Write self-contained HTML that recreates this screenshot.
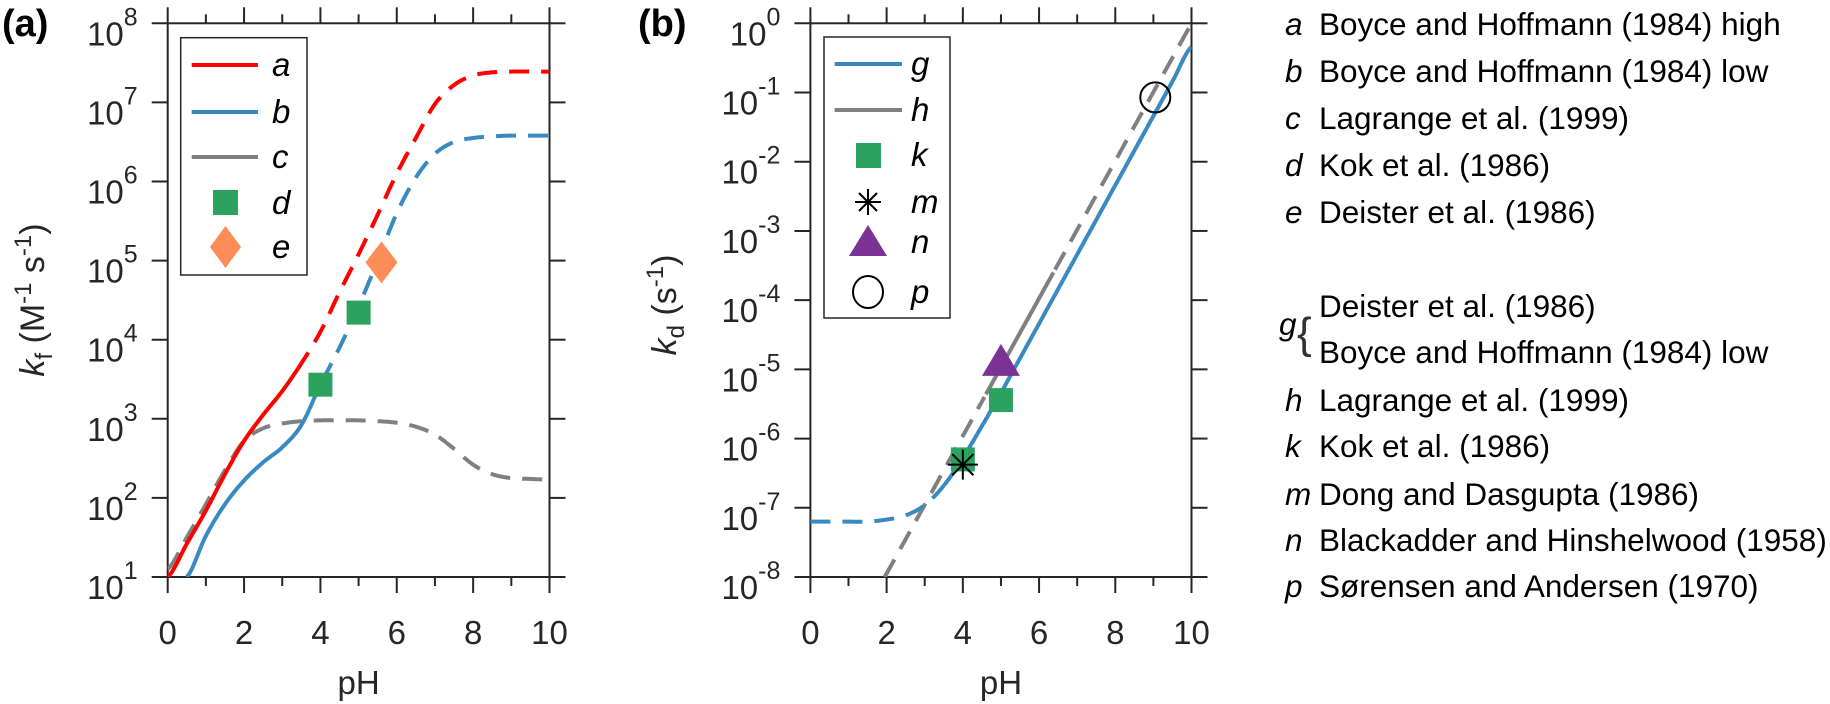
<!DOCTYPE html>
<html><head><meta charset="utf-8"><style>
body{margin:0;background:#fff}
svg{display:block;font-family:"Liberation Sans",Arial,sans-serif}
</style></head><body>
<svg id="fig" width="1830" height="704" viewBox="0 0 1830 704"></svg>
<script>
// ---- Panel (a) data ----
const phA = [0,0.5,1,1.5,2,2.5,3,3.5,4,4.5,5,5.5,6,6.5,7,7.5,8,8.5,9,9.5,10];
const logA = [1.0,1.42,1.84,2.3,2.72,3.05,3.35,3.7,4.1,4.6,5.08,5.58,6.1,6.55,6.98,7.22,7.34,7.38,7.39,7.39,7.39];
const logB = [null,1.0,1.52,1.92,2.22,2.45,2.64,2.92,3.43,3.9,4.42,5.0,5.6,6.05,6.35,6.5,6.55,6.57,6.58,6.58,6.58];
const logC = [1.1,1.5,1.92,2.35,2.72,2.88,2.94,2.97,2.98,2.98,2.98,2.97,2.95,2.9,2.8,2.62,2.42,2.3,2.25,2.24,2.23];
const solidEndA = 3.4, solidEndB = 3.7;
const dPh = [4,5], dVal = [2.7e3,2.2e4];
const ePh = [5.6], eVal = [9.5e4];
const yTicksA = [1,2,3,4,5,6,7,8];
// ---- Panel (b) data ----
const phB = [0,0.5,1,1.5,2,2.5,3,3.5,4,4.5,5,5.5,6,6.5,7,7.5,8,8.5,9,9.5,10];
const logG = [-7.2,-7.2,-7.2,-7.2,-7.17,-7.11,-6.96,-6.68,-6.28,-5.82,-5.34,-4.84,-4.34,-3.84,-3.34,-2.84,-2.34,-1.84,-1.34,-0.84,-0.34];
const hPh = [1.95,10], hLog = [-8,0];
const hSolid = [4.6,6.4];
const gSolidStart = 3.5;
const kPh = [4,5], kVal = [5e-7,3.6e-6];
const mPh = [4], mVal = [4.2e-7];
const nPh = [5], nVal = [1.2e-5];
const pPh = [9.05], pVal = [0.085];
const yTicksB = [-8,-7,-6,-5,-4,-3,-2,-1,0];
const xTicks = [0,2,4,6,8,10];

const NS="http://www.w3.org/2000/svg";
const svg=document.getElementById('fig');
function mk(tag,attrs,parent){const e=document.createElementNS(NS,tag);for(const k in attrs)e.setAttribute(k,attrs[k]);(parent||svg).appendChild(e);return e;}

const A={x0:167.7,x1:549.5,y0:577,y1:23.3,lmin:1,lmax:8};
const B={x0:810.4,x1:1191.5,y0:577,y1:23.3,lmin:-8,lmax:0};
function sx(P,v){return P.x0+(P.x1-P.x0)*v/10;}
function sy(P,l){return P.y0-(P.y0-P.y1)*(l-P.lmin)/(P.lmax-P.lmin);}

function axes(P,yt,name){
  const g=mk('g',{});
  
  
  mk('rect',{x:P.x0,y:P.y1,width:P.x1-P.x0,height:P.y0-P.y1,fill:'none',stroke:'#262626','stroke-width':2},g);
  for(let v=0;v<=10;v++){
    const x=sx(P,v),L=(v%2==0)?16:9;
    mk('line',{x1:x,x2:x,y1:P.y0,y2:P.y0+L,stroke:'#262626','stroke-width':2},g);
    mk('line',{x1:x,x2:x,y1:P.y1,y2:P.y1-L,stroke:'#262626','stroke-width':2},g);
  }
  xTicks.forEach(v=>{
    const t=mk('text',{x:sx(P,v),y:644,'text-anchor':'middle','font-size':33,fill:'#262626'},g);
    t.textContent=v;
    
    
  });
  yt.forEach(l=>{
    const y=sy(P,l);
    mk('line',{x1:P.x0-16,x2:P.x0,y1:y,y2:y,stroke:'#262626','stroke-width':2},g);
    mk('line',{x1:P.x1,x2:P.x1+16,y1:y,y2:y,stroke:'#262626','stroke-width':2},g);
    const t=mk('text',{x:P.x0-30,y:y+22,'text-anchor':'end','font-size':33,fill:'#262626'},g);
    
    
    const a=mk('tspan',{},t);a.textContent='10';
    const b=mk('tspan',{'font-size':25,dy:-20},t);b.textContent=String(l);
  });
  const xl=mk('text',{x:(P.x0+P.x1)/2,y:694,'text-anchor':'middle','font-size':33,fill:'#262626'},g);
  xl.textContent='pH';
  
  
}
axes(A,yTicksA,'panel-a');axes(B,yTicksB,'panel-b');

function path(P,xs,ls,filt,attrs,name){
  let d='';let pen=false;
  for(let i=0;i<xs.length;i++){
    const l=ls[i];
    if(l==null||!filt(xs[i])){pen=false;continue;}
    d+=(pen?'L':'M')+sx(P,xs[i]).toFixed(1)+','+sy(P,l).toFixed(1);pen=true;
  }
  const p=mk('path',Object.assign({d:d,fill:'none','stroke-width':4,'stroke-linejoin':'round'},attrs));
  
  
  return p;
}
// Catmull-Rom smoothing between data points
function dense(xs,ls,step){
  const px=[],pl=[];
  for(let i=0;i<xs.length;i++){if(ls[i]!=null){px.push(xs[i]);pl.push(ls[i]);}}
  const X=[],L=[],n=px.length;
  for(let i=0;i<n-1;i++){
    const y0=pl[Math.max(i-1,0)],y1=pl[i],y2=pl[i+1],y3=pl[Math.min(i+2,n-1)];
    for(let t=0;t<1-1e-9;t+=step){
      const t2=t*t,t3=t2*t;
      X.push(px[i]+(px[i+1]-px[i])*t);
      L.push(0.5*((2*y1)+(-y0+y2)*t+(2*y0-5*y1+4*y2-y3)*t2+(-y0+3*y1-3*y2+y3)*t3));
    }
  }
  X.push(px[n-1]);L.push(pl[n-1]);return [X,L];
}
// linear densification
function denseLinear(xs,ls,step){
  const X=[],L=[];
  for(let i=0;i<xs.length-1;i++){
    for(let t=0;t<1-1e-9;t+=step){X.push(xs[i]+(xs[i+1]-xs[i])*t);L.push(ls[i]+(ls[i+1]-ls[i])*t);}
  }
  X.push(xs[xs.length-1]);L.push(ls[ls.length-1]);return [X,L];
}
const clipA=mk('clipPath',{id:'ca'});mk('rect',{x:A.x0,y:A.y1,width:A.x1-A.x0,height:A.y0-A.y1},clipA);
const clipB=mk('clipPath',{id:'cb'});mk('rect',{x:B.x0,y:B.y1,width:B.x1-B.x0,height:B.y0-B.y1},clipB);

let [xa,la]=dense(phA,logA,0.05);
let [xb,lb]=dense(phA,logB,0.05);
let [xc,lc]=dense(phA,logC,0.05);
const gray='#808080',red='#ff0000',blue='#3a8ac2';
path(A,xc,lc,()=>true,{stroke:gray,'stroke-dasharray':'20 12','clip-path':'url(#ca)'},'series-c-line');
path(A,xb,lb,v=>v<=solidEndB,{stroke:blue,'clip-path':'url(#ca)'},'series-b-solid');
path(A,xb,lb,v=>v>=solidEndB,{stroke:blue,'stroke-dasharray':'20 12','clip-path':'url(#ca)'},'series-b-dashed');
path(A,xa,la,v=>v<=solidEndA,{stroke:red,'clip-path':'url(#ca)'},'series-a-solid');
path(A,xa,la,v=>v>=solidEndA,{stroke:red,'stroke-dasharray':'20 12','clip-path':'url(#ca)'},'series-a-dashed');
dPh.forEach((p,i)=>{const x=sx(A,p),y=sy(A,Math.log10(dVal[i]));const r=mk('rect',{x:x-12,y:y-12,width:24,height:24,fill:'#2ca25f'});});
ePh.forEach((p,i)=>{const x=sx(A,p),y=sy(A,Math.log10(eVal[i]));const r=mk('polygon',{points:`${x},${y-21} ${x+16},${y} ${x},${y+21} ${x-16},${y}`,fill:'#fc8d59'});});

// panel b lines
let [xg,lg]=dense(phB,logG,0.05);
let [xh,lh]=denseLinear(hPh,hLog,0.005);
path(B,xh,lh,v=>v<=hSolid[0]||v>=hSolid[1],{stroke:gray,'stroke-dasharray':'20 12','clip-path':'url(#cb)'},'series-h-dashed');
path(B,xh,lh,v=>v>=hSolid[0]&&v<=hSolid[1],{stroke:gray,'clip-path':'url(#cb)'},'series-h-solid');
path(B,xg,lg,v=>v<=gSolidStart,{stroke:blue,'stroke-dasharray':'20 12','clip-path':'url(#cb)'},'series-g-dashed');
path(B,xg,lg,v=>v>=gSolidStart,{stroke:blue,'clip-path':'url(#cb)'},'series-g-solid');
kPh.forEach((p,i)=>{const x=sx(B,p),y=sy(B,Math.log10(kVal[i]));const r=mk('rect',{x:x-12,y:y-12,width:24,height:24,fill:'#2ca25f'});});
nPh.forEach((p,i)=>{const x=sx(B,p),y=sy(B,Math.log10(nVal[i]));const r=mk('polygon',{points:`${x},${y-20} ${x+19},${y+12} ${x-19},${y+12}`,fill:'#7b3294'});});
function star(x,y,r,g){for(let k=0;k<4;k++){const a=k*Math.PI/4;mk('line',{x1:x-r*Math.cos(a),y1:y-r*Math.sin(a),x2:x+r*Math.cos(a),y2:y+r*Math.sin(a),stroke:'#000','stroke-width':2},g);}}
mPh.forEach((p,i)=>{const g=mk('g',{});star(sx(B,p),sy(B,Math.log10(mVal[i])),15,g);});
pPh.forEach((p,i)=>{const c=mk('circle',{cx:sx(B,p),cy:sy(B,Math.log10(pVal[i])),r:15,fill:'none',stroke:'#000','stroke-width':2});});
</script>
<svg width="1830" height="704" style="position:absolute;left:0;top:0" font-family="Liberation Sans, Arial, sans-serif">
<text x="2" y="36" font-size="38" font-weight="bold" fill="#000">(a)</text>
<text x="638" y="36" font-size="38" font-weight="bold" fill="#000">(b)</text>
<text transform="translate(44,300) rotate(-90)" text-anchor="middle" font-size="34" fill="#262626"><tspan font-style="italic">k</tspan><tspan font-size="24" dy="8">f</tspan><tspan dy="-8"> (M</tspan><tspan font-size="24" dy="-13">-1</tspan><tspan dy="13"> s</tspan><tspan font-size="24" dy="-13">-1</tspan><tspan dy="13">)</tspan></text>
<text transform="translate(676,305) rotate(-90)" text-anchor="middle" font-size="34" fill="#262626"><tspan font-style="italic">k</tspan><tspan font-size="24" dy="8">d</tspan><tspan dy="-8"> (s</tspan><tspan font-size="24" dy="-13">-1</tspan><tspan dy="13">)</tspan></text>
<g font-size="33" font-style="italic">
<rect x="180.7" y="37.7" width="126.3" height="237.3" fill="#fff" stroke="#262626" stroke-width="1.5"/>
<line x1="191.7" x2="258" y1="65" y2="65" stroke="#ff0000" stroke-width="4"/><text x="272" y="76">a</text>
<line x1="191.7" x2="258" y1="112" y2="112" stroke="#3a8ac2" stroke-width="4"/><text x="272" y="123">b</text>
<line x1="191.7" x2="258" y1="157" y2="157" stroke="#808080" stroke-width="4"/><text x="272" y="168">c</text>
<rect x="213" y="190" width="25" height="25" fill="#2ca25f"/><text x="272" y="214">d</text>
<polygon points="225.5,226 241,247 225.5,268 210,247" fill="#fc8d59"/><text x="272" y="258">e</text>
</g>
<g font-size="33" font-style="italic">
<rect x="824" y="37" width="126" height="281" fill="#fff" stroke="#262626" stroke-width="1.5"/>
<line x1="834.6" x2="902" y1="64" y2="64" stroke="#3a8ac2" stroke-width="4"/><text x="911" y="75">g</text>
<line x1="834.6" x2="902" y1="110" y2="110" stroke="#808080" stroke-width="4"/><text x="911" y="121">h</text>
<rect x="856" y="143" width="25" height="25" fill="#2ca25f"/><text x="911" y="166">k</text>
<g stroke="#000" stroke-width="2"><line x1="868" y1="189" x2="868" y2="215"/><line x1="855" y1="202" x2="881" y2="202"/><line x1="859" y1="193" x2="877" y2="211"/><line x1="877" y1="193" x2="859" y2="211"/></g><text x="911" y="213">m</text>
<polygon points="868,225 887,256 849,256" fill="#7b3294"/><text x="911" y="253">n</text>
<ellipse cx="868" cy="292" rx="15" ry="16" fill="none" stroke="#000" stroke-width="2"/><text x="911" y="303">p</text>
</g>
<g font-size="31.5" fill="#000">
<text x="1285" y="35" font-style="italic">a</text><text x="1319" y="35">Boyce and Hoffmann (1984) high</text>
<text x="1285" y="82" font-style="italic">b</text><text x="1319" y="82">Boyce and Hoffmann (1984) low</text>
<text x="1285" y="129" font-style="italic">c</text><text x="1319" y="129">Lagrange et al. (1999)</text>
<text x="1285" y="176" font-style="italic">d</text><text x="1319" y="176">Kok et al. (1986)</text>
<text x="1285" y="223" font-style="italic">e</text><text x="1319" y="223">Deister et al. (1986)</text>
<text x="1279" y="335" font-style="italic">g</text><text x="1297" y="348" font-size="44" fill="#333">{</text>
<text x="1319" y="317">Deister et al. (1986)</text>
<text x="1319" y="363">Boyce and Hoffmann (1984) low</text>
<text x="1285" y="411" font-style="italic">h</text><text x="1319" y="411">Lagrange et al. (1999)</text>
<text x="1285" y="457" font-style="italic">k</text><text x="1319" y="457">Kok et al. (1986)</text>
<text x="1285" y="505" font-style="italic">m</text><text x="1319" y="505">Dong and Dasgupta (1986)</text>
<text x="1285" y="551" font-style="italic">n</text><text x="1319" y="551">Blackadder and Hinshelwood (1958)</text>
<text x="1285" y="597" font-style="italic">p</text><text x="1319" y="597">Sørensen and Andersen (1970)</text>
</g>
</svg>
</body></html>
